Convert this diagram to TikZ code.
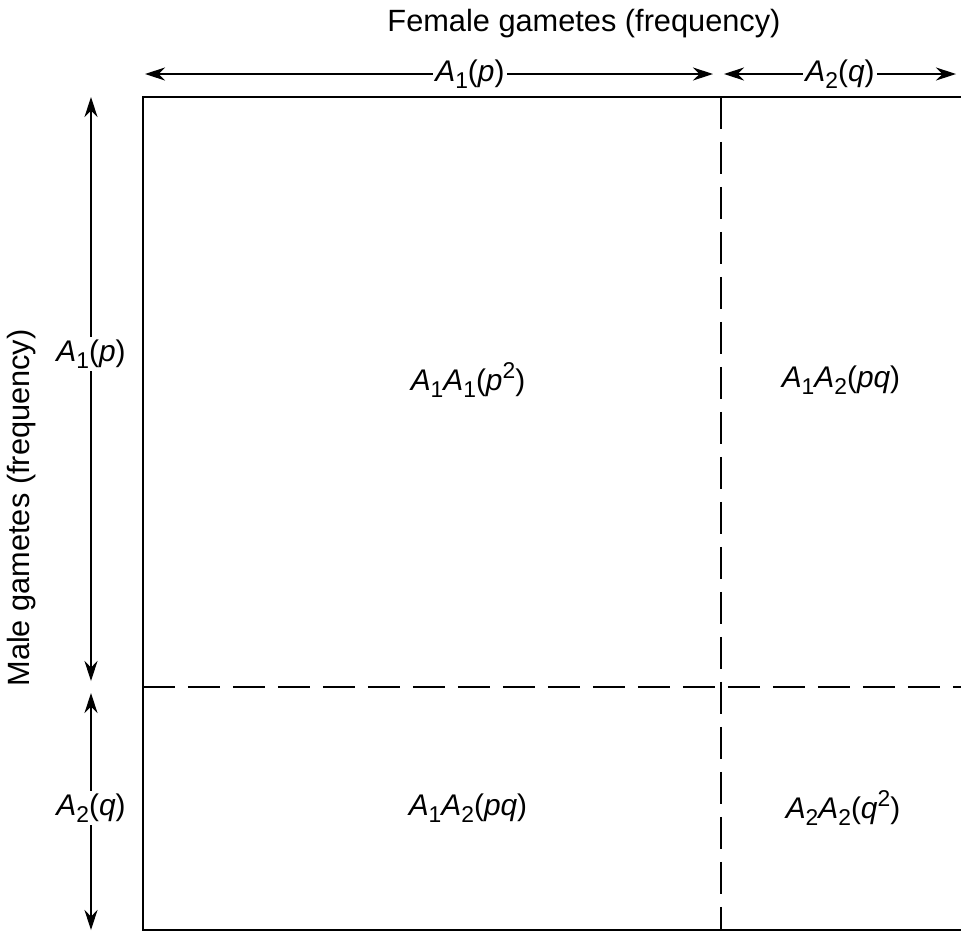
\documentclass[tikz,border=0pt]{standalone}
\usepackage{fontspec}
\setmainfont{Liberation Sans}
\usetikzlibrary{arrows.meta}
\tikzset{
  dim/.style={{Stealth[length=4mm,width=2.6mm]}-{Stealth[length=4mm,width=2.6mm]}, line width=0.7pt},
  split/.style={dash pattern=on 0.64cm off 0.26cm, line width=0.9pt},
  lbl/.style={fill=white, inner sep=1.5pt, font=\fontsize{17}{20}\selectfont},
  cell/.style={font=\fontsize{17}{20}\selectfont},
}
\newcommand{\allele}[1]{\textit{A}\raisebox{-0.45ex}{\fontsize{13}{14}\selectfont #1}}
\newcommand{\sqr}{\raisebox{0.75ex}{\fontsize{13}{14}\selectfont 2}}

\begin{document}
\begin{tikzpicture}[x=0.02cm, y=-0.02cm]
\useasboundingbox (0,0) rectangle (961,934);
\clip (0,0) rectangle (961,934);
% the square and its two splits
\coordinate (nw) at (143,97);
\coordinate (se) at (995,930);
\draw[line width=1.1pt] (nw) rectangle (se);
\coordinate (vt) at (721,97);
\coordinate (vb) at (721,930);
\coordinate (hl) at (143,687);
\coordinate (hr) at (995,687);
\draw[split] (vt) -- (vb);
\draw[split] (hl) -- (hr);
% female gametes
\node[font=\fontsize{17.5}{20}\selectfont] (fem) at (584,24) {Female gametes (frequency)};
\coordinate (f1) at (145,74);
\coordinate (f2) at (713,74);
\coordinate (f3) at (724,74);
\coordinate (f4) at (956,74);
\draw[dim] (f1) -- (f2) node[lbl, pos=0.572] (fp) {\allele{1}(\textit{p})};
\draw[dim] (f3) -- (f4) node[lbl, midway] (fq) {\allele{2}(\textit{q})};
% male gametes
\node[font=\fontsize{17.5}{20}\selectfont, rotate=90] (male) at (22,508) {Male gametes (frequency)};
\coordinate (m1) at (91,97);
\coordinate (m2) at (91,681);
\coordinate (m3) at (91,693);
\coordinate (m4) at (91,930);
\draw[dim] (m1) -- (m2) node[lbl, pos=0.44] (mp) {\allele{1}(\textit{p})};
\draw[dim] (m3) -- (m4) node[lbl, pos=0.485] (mq) {\allele{2}(\textit{q})};
% genotypes
\node[cell] (c11) at (468,380) {\allele{1}\allele{1}(\textit{p}\sqr)};
\node[cell] (c12) at (841,380) {\allele{1}\allele{2}(\textit{pq})};
\node[cell] (c21) at (468,808) {\allele{1}\allele{2}(\textit{pq})};
\node[cell] (c22) at (843,808) {\allele{2}\allele{2}(\textit{q}\sqr)};
\end{tikzpicture}
\end{document}
